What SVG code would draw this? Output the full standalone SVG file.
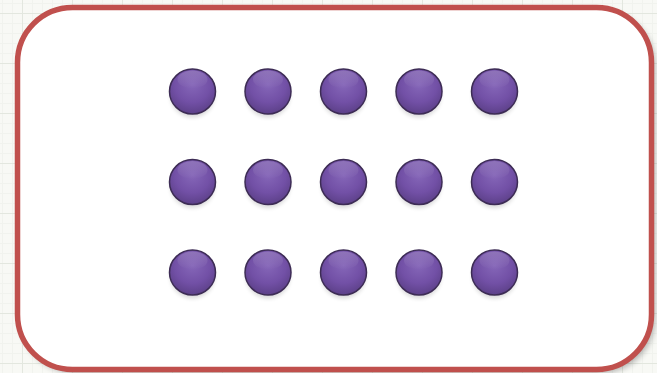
<svg xmlns="http://www.w3.org/2000/svg" width="657" height="373" viewBox="0 0 657 373">
<defs>
<pattern id="minor" x="2" y="3" width="10" height="10" patternUnits="userSpaceOnUse">
<path d="M0 0.5H10M0.5 0V10" stroke="#f1f3ee" stroke-width="1" fill="none"/>
</pattern>
<pattern id="major" x="22" y="13" width="50" height="50" patternUnits="userSpaceOnUse">
<path d="M0 0.5H50M0.5 0V50" stroke="#e3e7df" stroke-width="1" fill="none"/>
</pattern>
<radialGradient id="ball" cx="0.5" cy="0.35" r="0.65">
<stop offset="0" stop-color="#8566b8"/>
<stop offset="0.6" stop-color="#7250a6"/>
<stop offset="1" stop-color="#5c4088"/>
</radialGradient>
<linearGradient id="shine" x1="0" y1="0" x2="0" y2="1">
<stop offset="0" stop-color="#ffffff" stop-opacity="0.18"/>
<stop offset="1" stop-color="#ffffff" stop-opacity="0"/>
</linearGradient>
<filter id="boxShadow" x="-5%" y="-5%" width="115%" height="115%">
<feGaussianBlur stdDeviation="3"/>
</filter>
<filter id="ballShadow" x="-50%" y="-50%" width="200%" height="200%">
<feGaussianBlur stdDeviation="2"/>
</filter>
<g id="dot">
<ellipse cx="0" cy="4" rx="22" ry="22" fill="#000" opacity="0.15" filter="url(#ballShadow)"/>
<ellipse cx="0" cy="0" rx="23" ry="22.5" fill="url(#ball)" stroke="#3d2c55" stroke-width="1.5"/>
<ellipse cx="0" cy="-12" rx="15" ry="9" fill="url(#shine)"/>
</g>
</defs>
<style>
.box{fill:#ffffff;stroke:#c0504d;stroke-width:5.5}
</style>
<rect width="657" height="373" fill="#f8f9f5"/>
<rect width="657" height="373" fill="url(#minor)"/>
<rect width="657" height="373" fill="url(#major)"/>
<g id="frame">
<rect x="21" y="11" width="634" height="362" rx="55" fill="#000" opacity="0.3" filter="url(#boxShadow)"/>
<rect class="box" x="17.5" y="7.5" width="634" height="362" rx="55"/>
</g>
<g id="dots">
<g id="r1c1"><use href="#dot" x="192.5" y="91.5"/></g>
<g id="r1c2"><use href="#dot" x="268" y="91.5"/></g>
<g id="r1c3"><use href="#dot" x="343.5" y="91.5"/></g>
<g id="r1c4"><use href="#dot" x="419" y="91.5"/></g>
<g id="r1c5"><use href="#dot" x="494.5" y="91.5"/></g>
<g id="r2c1"><use href="#dot" x="192.5" y="182"/></g>
<g id="r2c2"><use href="#dot" x="268" y="182"/></g>
<g id="r2c3"><use href="#dot" x="343.5" y="182"/></g>
<g id="r2c4"><use href="#dot" x="419" y="182"/></g>
<g id="r2c5"><use href="#dot" x="494.5" y="182"/></g>
<g id="r3c1"><use href="#dot" x="192.5" y="272.5"/></g>
<g id="r3c2"><use href="#dot" x="268" y="272.5"/></g>
<g id="r3c3"><use href="#dot" x="343.5" y="272.5"/></g>
<g id="r3c4"><use href="#dot" x="419" y="272.5"/></g>
<g id="r3c5"><use href="#dot" x="494.5" y="272.5"/></g>
</g>
<g id="connectors"/>
</svg>
